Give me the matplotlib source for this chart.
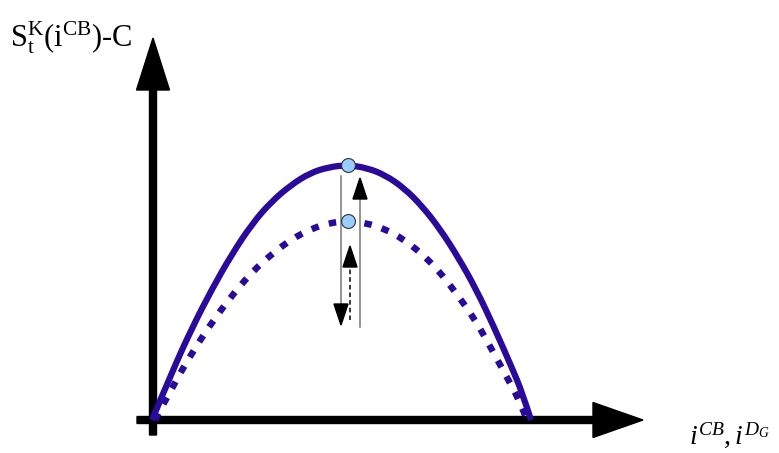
import matplotlib
matplotlib.use("Agg")
import matplotlib.pyplot as plt
from matplotlib.path import Path
from matplotlib.patches import PathPatch

plt.rcParams["font.family"] = ["Liberation Serif", "DejaVu Serif"]
plt.rcParams["mathtext.fontset"] = "custom"
plt.rcParams["mathtext.rm"] = "Liberation Serif"
plt.rcParams["mathtext.it"] = "Liberation Serif:italic"
plt.rcParams["mathtext.bf"] = "Liberation Serif:bold"

CURVE_COLOR = "#2a0a9a"

# payoff curve for the full market (solid)
solid_x = [-1, 19, 39, 59, 79, 99, 118, 138, 157, 176, 195,
           214, 232, 251, 269, 287, 305, 323, 341, 359, 369, 378]
solid_y = [0, 48, 92, 131, 166, 196, 218, 235, 247, 253, 255,
           252, 245, 232, 214, 191, 163, 131, 93, 52, 28, 0]

# payoff curve after the deviation (dotted)
dotted_x = [2, 22, 42, 62, 81, 100, 120, 139, 158, 176, 195,
            213, 232, 250, 268, 286, 303, 321, 338, 357, 366, 374]
dotted_y = [0, 38, 72, 102, 127, 149, 167, 181, 191, 197, 199,
            197, 191, 181, 167, 149, 127, 102, 72, 37, 20, 0]

# maxima of the two curves
peak_x = [195, 195]
peak_y = [255, 199]

# vertical shift arrows: (x, start, end)
down_arrow = (188, 244, 95)
up_arrow = (207, 93, 242)
dashed_arrow = (197, 100, 174)

fig = plt.figure(figsize=(7.79, 4.53), dpi=100)
ax = fig.add_axes([0, 0, 1, 1])
ax.set_xlim(-153, 626)
ax.set_ylim(-33, 420)
ax.axis("off")


def smooth_curve(xs, ys):
    # quadratic b-spline through the sampled points
    verts = [(xs[0], ys[0])]
    codes = [Path.MOVETO]
    n = len(xs)
    for i in range(1, n - 1):
        if i < n - 2:
            anchor = ((xs[i] + xs[i + 1]) / 2, (ys[i] + ys[i + 1]) / 2)
        else:
            anchor = (xs[-1], ys[-1])
        verts += [(xs[i], ys[i]), anchor]
        codes += [Path.CURVE3, Path.CURVE3]
    return Path(verts, codes)


# axes with arrow heads
ax.arrow(-16, 0, 506, 0, width=7, head_width=35, head_length=50,
         length_includes_head=True, fc="black", ec="black", zorder=3)
ax.arrow(0, -15, 0, 397, width=7, head_width=33, head_length=52,
         length_includes_head=True, fc="black", ec="black", zorder=3)

ax.add_patch(PathPatch(smooth_curve(solid_x, solid_y), fill=False,
                       ec=CURVE_COLOR, lw=4.5, capstyle="butt",
                       joinstyle="round", zorder=4))
ax.add_patch(PathPatch(smooth_curve(dotted_x, dotted_y), fill=False,
                       ec=CURVE_COLOR, lw=4.7, linestyle=(0, (1.15, 1.6)),
                       capstyle="butt", zorder=4))


def thin_arrow(spec, style="-", color="#777777"):
    x, y0, y1 = spec
    head = 21
    sign = 1 if y1 > y0 else -1
    ax.plot([x, x], [y0, y1 - sign * head], color=color, lw=1.1,
            linestyle=style, zorder=5)
    ax.arrow(x, y1 - sign * head, 0, sign * head, width=0.01,
             head_width=14, head_length=head, length_includes_head=True,
             fc="black", ec="black", zorder=5)


thin_arrow(down_arrow)
thin_arrow(up_arrow)
thin_arrow(dashed_arrow, style=(0, (3, 2)), color="black")

ax.plot(peak_x, peak_y, "o", ms=10, mfc="#99ccff", mec="#333333",
        mew=0.8, zorder=6)

ax.text(-143, 374, r"S$_\mathrm{t}^\mathrm{K}$(i$^\mathrm{CB}$)-C",
        fontsize=22, va="baseline", ha="left")
ax.text(536, -24, r"$i^{CB},i^{D_G}$", fontsize=20, va="baseline",
        ha="left")

fig.savefig("out.png", dpi=100)
